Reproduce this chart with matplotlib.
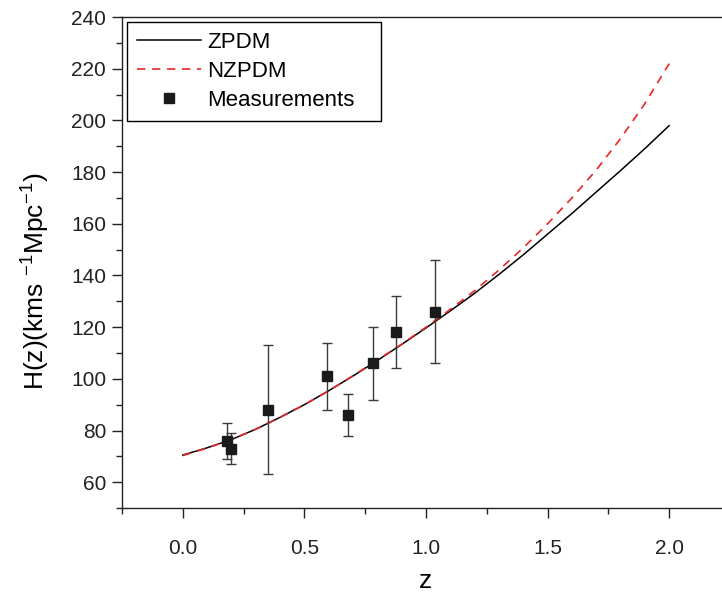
import matplotlib
matplotlib.use("Agg")
import matplotlib.pyplot as plt
from matplotlib.ticker import MultipleLocator

plt.rcParams["font.family"] = ["Liberation Sans", "DejaVu Sans"]
plt.rcParams["mathtext.fontset"] = "custom"
plt.rcParams["mathtext.rm"] = "Liberation Sans"
plt.rcParams["mathtext.it"] = "Liberation Sans"

# model curves
z_model = [0.0, 0.1, 0.2, 0.3, 0.4, 0.5, 0.6, 0.7, 0.8, 0.9, 1.0,
           1.1, 1.2, 1.3, 1.4, 1.5, 1.6, 1.7, 1.8, 1.9, 2.0]
h_zpdm = [70.5, 73.3, 76.5, 80.5, 85.1, 90.0, 95.4, 101.1, 107.1, 113.3, 119.7,
          126.3, 133.1, 140.4, 148.0, 156.0, 164.0, 172.3, 180.6, 189.1, 198.0]
h_nzpdm = [70.3, 73.2, 76.5, 80.5, 85.1, 90.0, 95.4, 101.2, 107.3, 113.4, 120.0,
           126.9, 134.1, 142.1, 150.7, 160.0, 170.0, 180.8, 193.0, 206.5, 222.0]

# measurements
z_obs = [0.18, 0.20, 0.35, 0.593, 0.68, 0.781, 0.875, 1.037]
h_obs = [76, 73, 88, 101, 86, 106, 118, 126]
h_err = [7, 6, 25, 13, 8, 14, 14, 20]

fig = plt.figure(figsize=(7.22, 5.95), dpi=100)
ax = fig.add_axes([0.169, 0.1462, 0.842, 0.825])

ax.plot(z_model, h_zpdm, color="black", lw=1.1, label="ZPDM")
ax.plot(z_model, h_nzpdm, color="#e8262a", lw=1.2, linestyle=(0, (5, 4)), label="NZPDM")
ax.errorbar(z_obs, h_obs, yerr=h_err, fmt="none", ecolor="#3a3a3a",
            elinewidth=1.0, capsize=3.5, capthick=1.0)
ax.plot(z_obs, h_obs, "s", color="#1a1a1a", markersize=7.5, ls="none", label="Measurements")

ax.set_xlim(-0.25, 2.25)
ax.set_ylim(50, 240)
ax.xaxis.set_minor_locator(MultipleLocator(0.25))
ax.yaxis.set_minor_locator(MultipleLocator(10))
ax.set_xticks([0.0, 0.5, 1.0, 1.5, 2.0])
ax.set_xticklabels(["0.0", "0.5", "1.0", "1.5", "2.0"])
ax.set_yticks(range(60, 241, 20))

ax.tick_params(which="both", direction="out", top=False, right=False, width=1.0, colors="#222222")
ax.tick_params(which="major", length=7.5, labelsize=15)
ax.tick_params(which="minor", length=4)
ax.tick_params(axis="x", which="major", pad=14.5)
ax.tick_params(axis="y", which="major", pad=4)

for side in ["left", "bottom", "top"]:
    ax.spines[side].set_linewidth(1.0)
    ax.spines[side].set_color("#222222")
ax.spines["right"].set_visible(False)

ax.set_xlabel("z", fontsize=19, labelpad=8)
ax.set_ylabel("H(z)(kms $^{-1}$Mpc$^{-1}$)", fontsize=19)
ax.yaxis.set_label_coords(-0.115, 0.462)

leg = ax.legend(loc="upper left", bbox_to_anchor=(0.0082, 0.0, 0.418, 0.99),
                mode="expand", borderaxespad=0, fontsize=16,
                frameon=True, fancybox=False, edgecolor="black", framealpha=1,
                handlelength=2.9, handletextpad=0.25, labelspacing=0.36,
                borderpad=0.45)
leg.get_frame().set_linewidth(1.0)

fig.savefig("out.png", dpi=100)
